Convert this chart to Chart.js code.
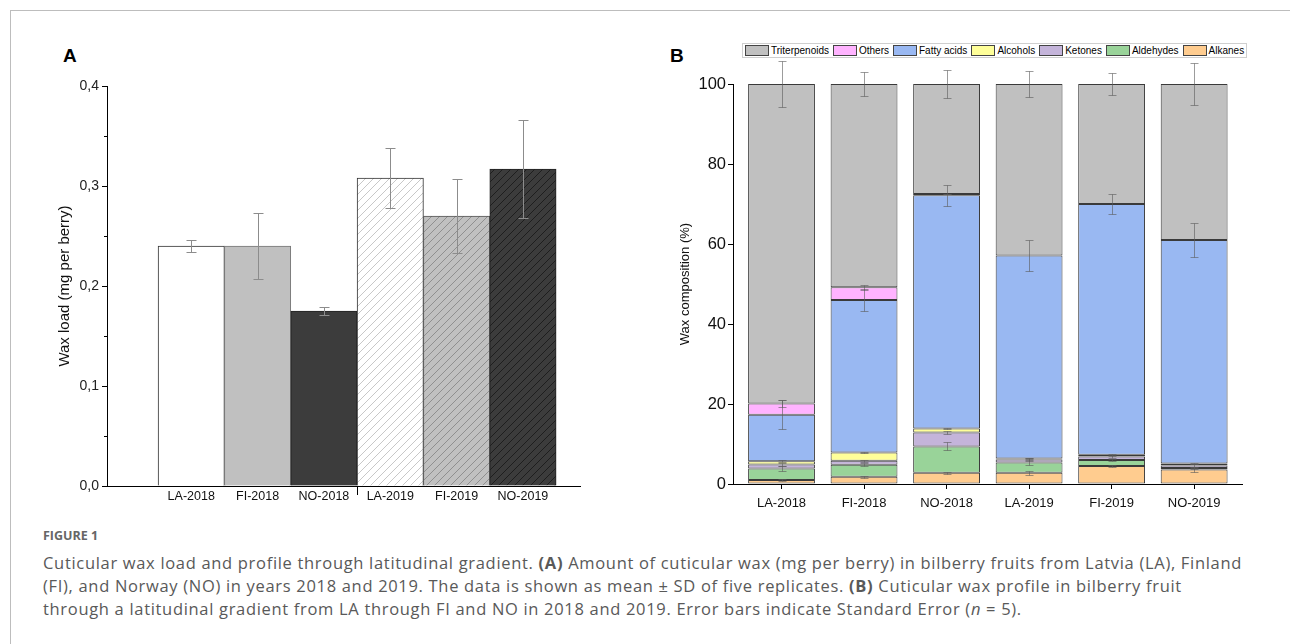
<!DOCTYPE html>
<html lang="en">
<head>
<meta charset="UTF-8">
<script src="https://cdn.jsdelivr.net/npm/chart.js"></script>
<title>Cuticular wax</title>
<style>
  body { margin: 0; width: 1290px; height: 644px; background: #fff; position: relative; overflow: hidden;
         font-family: "Liberation Sans", Arial, sans-serif; color: #000; }
  #frame { position: absolute; left: 10px; top: 10px; right: 0; bottom: 0;
           border-top: 1px solid #bdbdbd; border-left: 1px solid #bdbdbd; }
  .panel-label { position: absolute; font: bold 19px "Liberation Sans", Arial, sans-serif; }
  #chartA { position: absolute; left: 40px; top: 40px; }
  #chartB { position: absolute; left: 660px; top: 30px; }
  #legendB { position: absolute; left: 742px; top: 43px; height: 13px; border: 1px solid #cfcfcf;
             display: flex; align-items: center; font: 10px "Liberation Sans", Arial, sans-serif; background: #fff; }
  #legendB .sw { width: 22px; height: 9px; border: 1px solid #444; margin-left: 2px; }
  #legendB .tx { padding: 0 2px; white-space: nowrap; }
  .fig-no { position: absolute; left: 43px; top: 527px; font: bold 12.5px "Open Sans", sans-serif; color: #666; }
  .caption { position: absolute; left: 43px; top: 551px; width: 1240px; font: 16.5px/23px "Open Sans", sans-serif; color: #595959; white-space: nowrap; }
  .caption b { font-weight: 700; }
</style>
</head>
<body>
<div id="frame"></div>
<div class="panel-label" style="left:63px; top:45px;">A</div>
<div class="panel-label" style="left:670px; top:45px;">B</div>
<canvas id="chartA" width="560" height="480"></canvas>
<canvas id="chartB" width="600" height="490"></canvas>
<div id="legendB"></div>
<div class="fig-no">FIGURE 1</div>
<div class="caption" id="caption"><span id="line1">Cuticular wax load and profile through latitudinal gradient. <b>(A)</b> Amount of cuticular wax (mg per berry) in bilberry fruits from Latvia (LA), Finland</span><br>(FI), and Norway (NO) in years 2018 and 2019. The data is shown as mean ± SD of five replicates. <b>(B)</b> Cuticular wax profile in bilberry fruit<br>through a latitudinal gradient from LA through FI and NO in 2018 and 2019. Error bars indicate Standard Error (<i>n</i> = 5).</div>
<script>
  // ---- data ----
  const sites = ['LA-2018', 'FI-2018', 'NO-2018', 'LA-2019', 'FI-2019', 'NO-2019'];

  // panel A: wax load (mg per berry), mean and SD
  const waxLoad = [0.240, 0.240, 0.175, 0.308, 0.270, 0.317];
  const waxSD   = [0.006, 0.033, 0.004, 0.030, 0.037, 0.049];
  const yTicksA = [0, 0.1, 0.2, 0.3, 0.4];

  // panel B: composition (%), stacked bottom -> top
  const alkanes       = [1.0, 1.8, 2.8, 2.8, 4.5, 3.6];
  const aldehydes     = [2.9, 3.0, 6.6, 2.6, 1.5, 0.4];
  const ketones       = [1.0, 1.0, 3.5, 0.7, 0.9, 0.6];
  const alcohols      = [0.8, 2.1, 1.0, 0.3, 0.4, 0.5];
  const fattyAcids    = [11.6, 38.1, 58.3, 50.7, 62.7, 55.9];
  const others        = [2.8, 3.2, 0.3, 0, 0, 0];
  const triterpenoids = [79.9, 50.8, 27.5, 42.9, 30.0, 39.0];

  // standard errors
  const alkanesSE       = [0.3, 0.2, 0.2, 0.5, 0.2, 0.6];
  const aldehydesSE     = [0.6, 0.4, 1.0, 0.6, 0.2, 0.2];
  const ketonesSE       = [0.3, 0.3, 0.3, 0.3, 0.3, 0.5];
  const alcoholsSE      = [0.3, 0.1, 0.2, 0.2, 0.2, 0.2];
  const fattyAcidsSE    = [3.6, 2.7, 2.6, 3.9, 2.5, 4.2];
  const othersSE        = [0.9, 0.6, 0.1, 0, 0, 0];
  const triterpenoidsSE = [5.8, 2.9, 3.4, 3.2, 2.8, 5.3];

  const seriesB = [
    { name: 'Alkanes',       values: alkanes,       se: alkanesSE,       color: '#ffcc8f' },
    { name: 'Aldehydes',     values: aldehydes,     se: aldehydesSE,     color: '#99d399' },
    { name: 'Ketones',       values: ketones,       se: ketonesSE,       color: '#c4b4da' },
    { name: 'Alcohols',      values: alcohols,      se: alcoholsSE,      color: '#ffff99' },
    { name: 'Fatty acids',   values: fattyAcids,    se: fattyAcidsSE,    color: '#99b8f2' },
    { name: 'Others',        values: others,        se: othersSE,        color: '#ffb3ff' },
    { name: 'Triterpenoids', values: triterpenoids, se: triterpenoidsSE, color: '#c0c0c0' }
  ];

  const axisFont = '"Liberation Sans", Arial, sans-serif';

  // diagonal hatch for the 2019 bars
  function hatch(bg, line) {
    const c = document.createElement('canvas');
    c.width = 8; c.height = 8;
    const g = c.getContext('2d');
    g.fillStyle = bg; g.fillRect(0, 0, 8, 8);
    g.strokeStyle = line; g.lineWidth = 0.7;
    g.beginPath();
    g.moveTo(0, 8); g.lineTo(8, 0);
    g.moveTo(-2, 2); g.lineTo(2, -2);
    g.moveTo(6, 10); g.lineTo(10, 6);
    g.stroke();
    return g.createPattern(c, 'repeat');
  }

  const fillA = ['#ffffff', '#c0c0c0', '#3c3c3c',
                 hatch('#ffffff', '#b0b0b0'), hatch('#c0c0c0', '#7a7a7a'), hatch('#3c3c3c', '#111111')];
  const edgeA = ['#333333', '#777777', '#222222', '#333333', '#555555', '#222222'];

  // ---- panel A ----
  const errBarsA = {
    id: 'errBarsA',
    afterDatasetsDraw(chart) {
      const { ctx, scales: { x, y } } = chart;
      ctx.save();
      ctx.strokeStyle = '#8c8c8c';
      ctx.lineWidth = 1;
      waxLoad.forEach((v, i) => {
        const px = Math.round(x.getPixelForValue(i)) + 0.5;
        const top = Math.round(y.getPixelForValue(v + waxSD[i])) + 0.5;
        const bot = Math.round(y.getPixelForValue(v - waxSD[i])) + 0.5;
        ctx.beginPath();
        ctx.moveTo(px, top); ctx.lineTo(px, bot);
        ctx.moveTo(px - 5, top); ctx.lineTo(px + 5, top);
        ctx.moveTo(px - 5, bot); ctx.lineTo(px + 5, bot);
        ctx.stroke();
      });
      ctx.restore();
    }
  };

  const extraTicksA = {
    id: 'extraTicksA',
    afterDraw(chart) {
      const { ctx, scales: { x, y } } = chart;
      ctx.save();
      ctx.strokeStyle = '#000';
      ctx.lineWidth = 1;
      ctx.beginPath();
      // minor y ticks
      for (let k = 0; k < yTicksA.length - 1; k++) {
        const py = Math.round(y.getPixelForValue((yTicksA[k] + yTicksA[k + 1]) / 2)) + 0.5;
        ctx.moveTo(x.left - 3, py); ctx.lineTo(x.left, py);
      }
      // year separator tick
      const sx = Math.round(x.getPixelForValue(2.5)) + 0.5;
      ctx.moveTo(sx, y.bottom); ctx.lineTo(sx, y.bottom + 9);
      ctx.stroke();
      ctx.restore();
    }
  };

  new Chart(document.getElementById('chartA'), {
    type: 'bar',
    data: {
      datasets: [{
        data: waxLoad.map((v, i) => ({ x: i, y: v })),
        backgroundColor: fillA,
        borderColor: edgeA,
        borderWidth: 1,
        barPercentage: 1,
        categoryPercentage: 1
      }]
    },
    options: {
      responsive: false,
      animation: false,
      layout: { padding: { top: 46, right: 20, left: 0, bottom: 0 } },
      plugins: { legend: { display: false }, tooltip: { enabled: false } },
      scales: {
        x: {
          type: 'linear', min: -1.27, max: 5.86, offset: false,
          grid: { display: true, drawOnChartArea: false, drawTicks: false, offset: false },
          border: { color: '#000', width: 1 },
          afterBuildTicks: s => { s.ticks = sites.map((_, i) => ({ value: i })); },
          afterFit: s => { s.height = 34; },
          ticks: {
            autoSkip: false, maxRotation: 0, padding: 3, color: '#111',
            font: { family: axisFont, size: 12.5 },
            callback: v => sites[v]
          }
        },
        y: {
          min: 0, max: 0.4,
          grid: { drawOnChartArea: false, tickLength: 5, tickColor: '#000' },
          border: { color: '#000', width: 1 },
          afterBuildTicks: s => { s.ticks = yTicksA.map(v => ({ value: v })); },
          afterFit: s => { s.width = 67; },
          ticks: {
            padding: 3, color: '#222',
            font: { family: axisFont, size: 14 },
            callback: v => v.toFixed(1).replace('.', ',')
          },
          title: {
            display: true, text: 'Wax load (mg per berry)', color: '#111',
            font: { family: axisFont, size: 15 }, padding: { top: 16, bottom: 0 }
          }
        }
      }
    },
    plugins: [errBarsA, extraTicksA]
  });

  // ---- panel B ----
  const errBarsB = {
    id: 'errBarsB',
    afterDatasetsDraw(chart) {
      const { ctx, scales: { x, y } } = chart;
      ctx.save();
      ctx.strokeStyle = 'rgba(90,90,90,0.6)';
      ctx.lineWidth = 1;
      const cum = sites.map(() => 0);
      seriesB.forEach(s => {
        s.values.forEach((v, i) => {
          cum[i] += v;
          if (!v) return;
          const px = Math.round(x.getPixelForValue(i)) + 0.5;
          const top = Math.round(y.getPixelForValue(cum[i] + s.se[i])) + 0.5;
          const bot = Math.round(y.getPixelForValue(cum[i] - s.se[i])) + 0.5;
          ctx.beginPath();
          ctx.moveTo(px, top); ctx.lineTo(px, bot);
          ctx.moveTo(px - 4, top); ctx.lineTo(px + 4, top);
          ctx.moveTo(px - 4, bot); ctx.lineTo(px + 4, bot);
          ctx.stroke();
        });
      });
      ctx.restore();
    }
  };

  new Chart(document.getElementById('chartB'), {
    type: 'bar',
    data: {
      datasets: seriesB.map(s => ({
        label: s.name,
        data: s.values.map((v, i) => ({ x: i, y: v })),
        backgroundColor: s.color,
        borderColor: '#3a3a3a',
        borderWidth: s.values.map(v => (v ? 1 : 0)),
        borderSkipped: false,
        barPercentage: 0.81,
        categoryPercentage: 1
      }))
    },
    options: {
      responsive: false,
      animation: false,
      layout: { padding: { top: 54, right: 18, left: 0, bottom: 0 } },
      plugins: { legend: { display: false }, tooltip: { enabled: false } },
      scales: {
        x: {
          type: 'linear', stacked: true, min: -0.588, max: 5.58, offset: false,
          grid: { drawOnChartArea: false, tickLength: 5, tickColor: '#000', offset: false },
          border: { color: '#000', width: 1 },
          afterBuildTicks: s => { s.ticks = sites.map((_, i) => ({ value: i })); },
          afterFit: s => { s.height = 36; },
          ticks: {
            autoSkip: false, maxRotation: 0, padding: 7, color: '#111',
            font: { family: axisFont, size: 13 },
            callback: v => sites[v]
          }
        },
        y: {
          stacked: true, min: 0, max: 100,
          grid: { drawOnChartArea: false, tickLength: 5, tickColor: '#000' },
          border: { color: '#000', width: 1 },
          afterFit: s => { s.width = 73; },
          ticks: { stepSize: 20, padding: 2, color: '#111', font: { family: axisFont, size: 16.5 } },
          title: {
            display: true, text: 'Wax composition (%)', color: '#111',
            font: { family: axisFont, size: 13 }, padding: { top: 18, bottom: 0 }
          }
        }
      }
    },
    plugins: [errBarsB]
  });

  // legend for panel B (top of stack first)
  const legend = document.getElementById('legendB');
  seriesB.slice().reverse().forEach(s => {
    const sw = document.createElement('span');
    sw.className = 'sw';
    sw.style.background = s.color;
    const tx = document.createElement('span');
    tx.className = 'tx';
    tx.textContent = s.name;
    legend.appendChild(sw);
    legend.appendChild(tx);
  });

  // stretch caption so the first line spans the same width as in the figure
  const line1 = document.getElementById('line1');
  const w = line1.getBoundingClientRect().width;
  const n = line1.textContent.length;
  document.getElementById('caption').style.letterSpacing = ((1199 - w) / n) + 'px';
</script>
</body>
</html>
